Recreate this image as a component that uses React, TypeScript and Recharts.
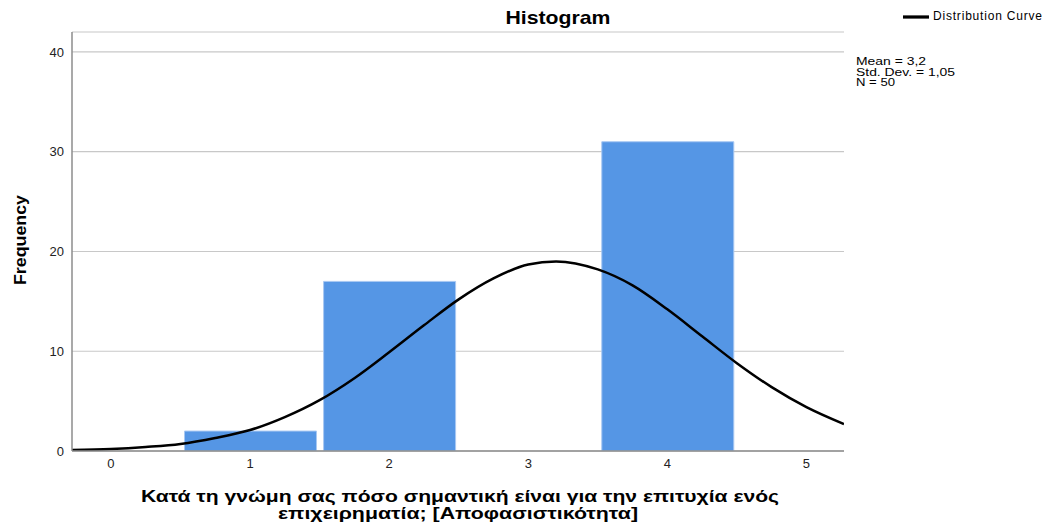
import React from 'react';
import { ComposedChart, Bar, Line, XAxis, YAxis, CartesianGrid, Legend } from 'recharts';

// Histogram bins (value -> frequency)
const binValues = [1, 2, 4];
const binFrequencies = [2, 17, 31];

// Distribution curve points
const curveXs = [-0.28, 0, 0.25, 0.5, 0.75, 1, 1.25, 1.5, 1.75, 2, 2.25, 2.5, 2.75, 3, 3.2, 3.5, 3.75, 4, 4.25, 4.5, 4.75, 5, 5.27];
const curveYs = [0.1, 0.2, 0.4, 0.7, 1.3, 2.1, 3.4, 5.1, 7.3, 9.9, 12.6, 15.2, 17.3, 18.7, 19.0, 18.2, 16.6, 14.2, 11.5, 8.8, 6.4, 4.4, 2.7];

const xTicks = [0, 1, 2, 3, 4, 5];
const yTicks = [0, 10, 20, 30, 40];
const xDomain: [number, number] = [-0.28, 5.27];

const statsLines = ['Mean = 3,2', 'Std. Dev. = 1,05', 'N = 50'];
const titleText = 'Histogram';
const yLabelText = 'Frequency';
const xLabelLines = [
  'Κατά τη γνώμη σας πόσο σημαντική είναι για την επιτυχία ενός',
  'επιχειρηματία; [Αποφασιστικότητα]',
];

const barData = binValues.map((x, i) => ({ x, freq: binFrequencies[i] }));
const curveData = curveXs.map((x, i) => ({ x, y: curveYs[i] }));

const FONT = '"Liberation Sans", Arial, Helvetica, sans-serif';

export default function App() {
  return (
    <div style={{ position: 'absolute', left: 0, top: 0, width: 1054, height: 528, background: '#fff', fontFamily: FONT }}>
      <ComposedChart
        width={1054}
        height={528}
        data={barData}
        margin={{ top: 32, right: 210, bottom: 47, left: 32 }}
      >
        <CartesianGrid vertical={false} stroke="#c8c8c8" strokeWidth={1.2} xAxisId="curve" />
        <XAxis
          xAxisId="bars"
          dataKey="x"
          type="number"
          domain={xDomain}
          allowDataOverflow
          ticks={xTicks}
          orientation="top"
          height={0}
          hide
        />
        <XAxis
          xAxisId="curve"
          dataKey="x"
          type="number"
          domain={xDomain}
          allowDataOverflow
          ticks={xTicks}
          tickLine={false}
          axisLine={{ stroke: '#8c8c8c', strokeWidth: 1.5 }}
          tick={{ fontSize: 13, fill: '#222', fontFamily: FONT }}
          height={30}
        />
        <YAxis
          type="number"
          domain={[0, 42]}
          allowDataOverflow
          ticks={yTicks}
          tickLine={false}
          axisLine={{ stroke: '#8c8c8c', strokeWidth: 1.5 }}
          tick={{ fontSize: 13, fill: '#222', fontFamily: FONT }}
          width={40}
        />
        <Bar
          xAxisId="bars"
          dataKey="freq"
          barSize={132}
          fill="#5596e5"
          stroke="#a8c8f2"
          strokeWidth={1}
          legendType="none"
          isAnimationActive={false}
        />
        <Line
          xAxisId="curve"
          data={curveData}
          dataKey="y"
          name="Distribution Curve"
          type="monotone"
          stroke="#000"
          strokeWidth={2.5}
          dot={false}
          activeDot={false}
          isAnimationActive={false}
        />
        <Legend
          layout="vertical"
          align="center"
          verticalAlign="middle"
          iconType="plainline"
          iconSize={26}
          wrapperStyle={{
            position: 'absolute',
            top: 4,
            left: 903,
            width: 151,
            fontSize: 12,
            letterSpacing: '0.8px',
            fontFamily: FONT,
            textAlign: 'left',
            margin: 0,
          }}
          formatter={(value: string) => <span style={{ color: '#000' }}>{value}</span>}
        />
      </ComposedChart>
      <svg
        width={1054}
        height={528}
        style={{ position: 'absolute', left: 0, top: 0, pointerEvents: 'none' }}
      >
        <text x={558} y={24} textAnchor="middle" fontSize={19} fontWeight="bold" fontFamily={FONT} fill="#000" textLength={105} lengthAdjust="spacingAndGlyphs">
          {titleText}
        </text>
        <text
          x={26}
          y={240}
          transform="rotate(-90 26 240)"
          textAnchor="middle"
          fontSize={17}
          fontWeight="bold"
          fontFamily={FONT}
          fill="#000"
          textLength={90}
          lengthAdjust="spacingAndGlyphs"
        >
          {yLabelText}
        </text>
        <text x={460} y={502} textAnchor="middle" fontSize={16} fontWeight="bold" fontFamily={FONT} fill="#000" textLength={638} lengthAdjust="spacingAndGlyphs">
          {xLabelLines[0]}
        </text>
        <text x={458} y={519} textAnchor="middle" fontSize={16} fontWeight="bold" fontFamily={FONT} fill="#000" textLength={360} lengthAdjust="spacingAndGlyphs">
          {xLabelLines[1]}
        </text>
        {statsLines.map((s, i) => (
          <text
            key={s}
            x={856}
            y={65 + i * 10.5}
            fontSize={11}
            fontFamily={FONT}
            fill="#000"
            textLength={[70, 99, 39][i]}
            lengthAdjust="spacingAndGlyphs"
          >
            {s}
          </text>
        ))}
      </svg>
    </div>
  );
}
